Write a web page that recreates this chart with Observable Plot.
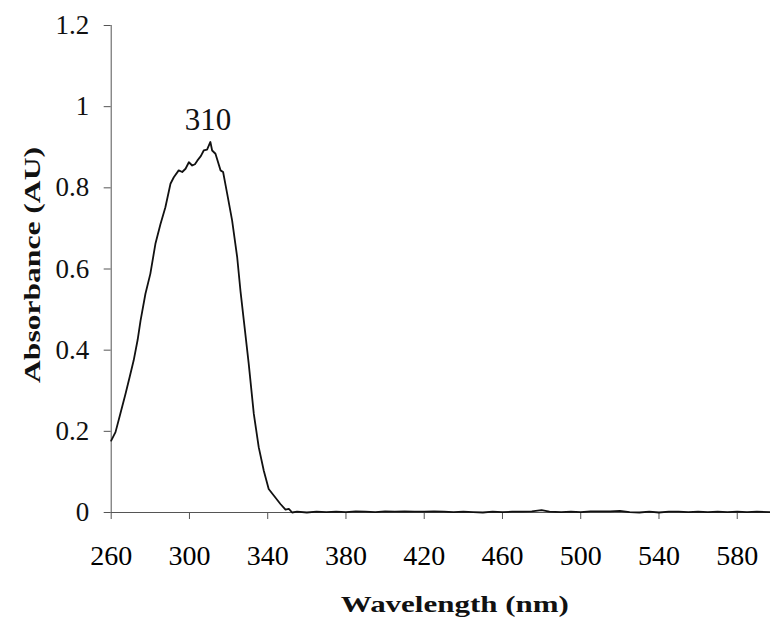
<!DOCTYPE html>
<html><head><meta charset="utf-8">
<script src="https://cdn.jsdelivr.net/npm/d3@7"></script>
<script src="https://cdn.jsdelivr.net/npm/@observablehq/plot@0.6"></script>
<style>body{margin:0;background:#fff} svg{display:block}</style>
</head><body><div id="chart"></div>
<script>
const wavelength = [260,262.2,264.5,267.3,269.5,271.5,273.5,275,277.5,280,282.6,285.2,287.7,290.3,292,294.5,296.3,298,299.7,301.4,302.8,304,305.8,307.3,309,310.7,311.6,313.3,315.9,317.2,319.3,321.8,324.4,326.1,327.8,330.3,332.9,335.4,338,340.5,343.1,346.5,349.1,350.8,352.5,
  355,360,365,370,375,380,385,390,395,400,405,410,415,420,425,430,435,440,445,450,455,460,465,470,475,480,484,490,495,500,505,510,515,520,525,530,535,540,545,550,555,560,565,570,575,580,585,590,597];
const absorbance = [0.177,0.198,0.240,0.292,0.335,0.375,0.425,0.473,0.539,0.588,0.662,0.711,0.752,0.810,0.826,0.843,0.839,0.847,0.863,0.855,0.858,0.867,0.878,0.892,0.894,0.913,0.892,0.884,0.843,0.839,0.785,0.720,0.629,0.545,0.473,0.366,0.243,0.161,0.103,0.058,0.042,0.021,0.007,0.009,0.000,
  0.002,0.000,0.002,0.001,0.002,0.001,0.003,0.002,0.001,0.003,0.002,0.003,0.002,0.002,0.003,0.002,0.001,0.002,0.001,0.000,0.002,0.001,0.002,0.002,0.003,0.006,0.002,0.001,0.002,0.001,0.003,0.003,0.003,0.004,0.001,0.000,0.002,0.000,0.002,0.002,0.001,0.002,0.001,0.002,0.001,0.002,0.001,0.002,0.001];
const xTicks = [260,300,340,380,420,460,500,540,580];
const yTicks = [0,0.2,0.4,0.6,0.8,1,1.2];
const yTickLabels = ["0","0.2","0.4","0.6","0.8","1","1.2"];
const xTitle = "Wavelength (nm)";
const yTitle = "Absorbance (AU)";
const peakLabel = [{x:309.5, y:0.966, text:"310"}];

const data = wavelength.map((w,i)=>({w, a: absorbance[i]}));
const serif = "'Liberation Serif', 'Times New Roman', serif";
const chart = Plot.plot({
  width:770, height:621, marginLeft:110.7, marginRight:0, marginTop:25, marginBottom:109,
  style:{fontFamily:serif, background:"#fff", color:"#000"},
  x:{domain:[260,597]}, y:{domain:[0,1.2]},
  marks:[
    Plot.axisX({ticks:xTicks, tickSize:7, tickPadding:26, fontSize:28, label:null, stroke:"#555", tickFormat:d=>String(d)}),
    Plot.axisY({ticks:yTicks, tickSize:7, text:null, label:null, stroke:"#555"}),
    Plot.text(yTicks, {y:d=>d, text:(d,i)=>yTickLabels[i], frameAnchor:"left", textAnchor:"end", lineAnchor:"middle", dx:-22, fontSize:27, fill:"#111"}),
    Plot.ruleX([260], {y1:0, y2:1.2, stroke:"#555"}),
    Plot.ruleY([0], {stroke:"#555"}),
    Plot.line(data, {x:"w", y:"a", stroke:"#111", strokeWidth:1.8}),
    Plot.text(peakLabel, {x:"x", y:"y", text:"text", fontSize:31, lineAnchor:"middle", fill:"#111"}),
    Plot.text([xTitle], {frameAnchor:"bottom", lineAnchor:"bottom", textAnchor:"middle", dx:14, dy:99.5, fontSize:24, fontWeight:"bold", fill:"#111"}),
    Plot.text([yTitle], {frameAnchor:"left", lineAnchor:"bottom", textAnchor:"middle", rotate:-90, dx:-71, dy:-4, fontSize:24, fontWeight:"bold", fill:"#111"})
  ]
});
d3.select(chart).selectAll("text").each(function(){
  const t = this.textContent;
  if (t === xTitle) d3.select(this).attr("textLength", 228).attr("lengthAdjust","spacingAndGlyphs");
  if (t === yTitle) d3.select(this).attr("textLength", 236).attr("lengthAdjust","spacingAndGlyphs");
});
document.getElementById("chart").append(chart);
</script>
</body></html>
